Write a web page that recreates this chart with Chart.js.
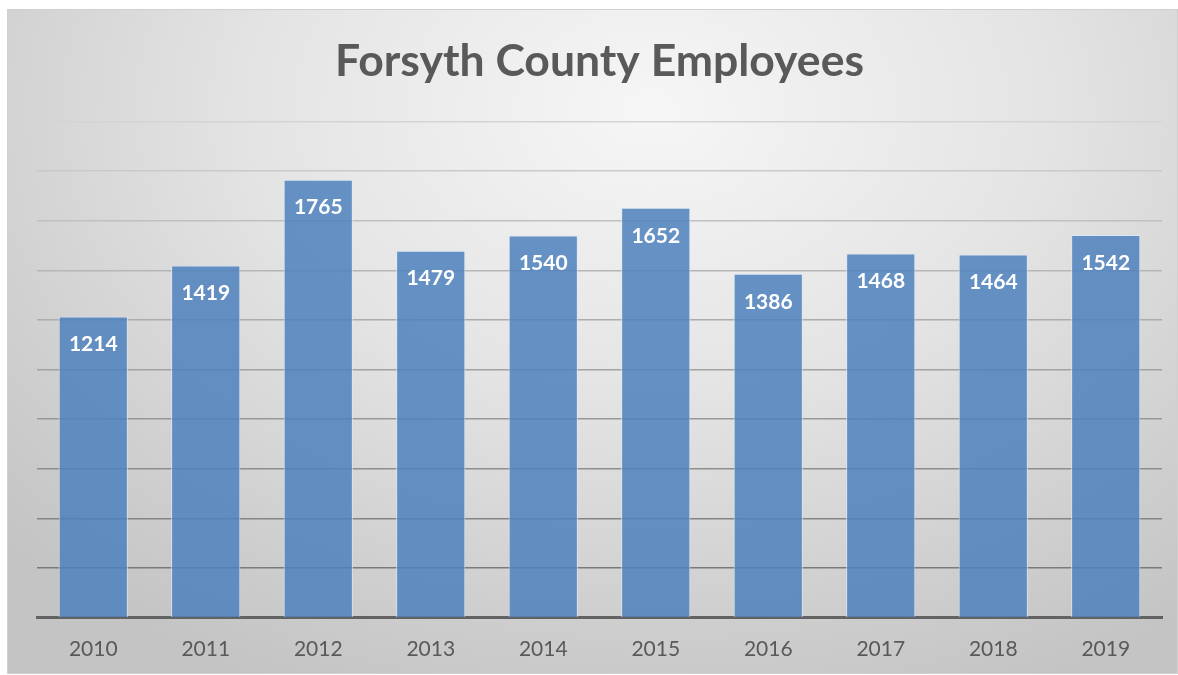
<!DOCTYPE html>
<html>
<head>
<meta charset="utf-8">
<script src="https://cdn.jsdelivr.net/npm/chart.js@4/dist/chart.umd.min.js"></script>
<style>
  html, body { margin: 0; padding: 0; background: #ffffff; }
  #panel {
    position: absolute; left: 7px; top: 9px; width: 1169px; height: 663px;
    border: 1px solid #d0d0d0;
    background: radial-gradient(ellipse 75% 95% at 55% 15%, #f6f6f6 0%, #e4e4e4 45%, #cfcfcf 80%, #c4c4c4 100%);
  }
  #wrap { position: absolute; left: 0; top: 0; width: 1169px; height: 663px; }
</style>
</head>
<body>
<div id="panel"><div id="wrap"><canvas id="c"></canvas></div></div>
<script>
const title = "Forsyth County Employees";
const years = ["2010","2011","2012","2013","2014","2015","2016","2017","2018","2019"];
const employees = [1214, 1419, 1765, 1479, 1540, 1652, 1386, 1468, 1464, 1542];
const yMax = 2000;
const yStep = 200;

const barLabels = {
  id: 'barLabels',
  afterDatasetsDraw(chart) {
    const ctx = chart.ctx;
    const meta = chart.getDatasetMeta(0);
    ctx.save();
    ctx.fillStyle = '#ffffff';
    ctx.font = 'bold 21px Lato';
    ctx.textAlign = 'center';
    ctx.textBaseline = 'middle';
    meta.data.forEach((bar, i) => {
      ctx.fillText(String(employees[i]), bar.x, bar.y + 28);
    });
    ctx.restore();
  }
};

function gridColor(v) {
  const t = v / yMax;
  const g = Math.round(0x70 + (0xd4 - 0x70) * t);
  return `rgb(${g},${g},${g})`;
}

new Chart(document.getElementById('c'), {
  type: 'bar',
  data: {
    labels: years,
    datasets: [{
      data: employees,
      backgroundColor: 'rgba(79,129,189,0.86)',
      borderColor: 'rgba(220,232,245,0.85)',
      borderWidth: 1,
      categoryPercentage: 1.0,
      barPercentage: 0.615
    }]
  },
  options: {
    responsive: true,
    maintainAspectRatio: false,
    animation: false,
    layout: { padding: { left: 29, right: 15, top: 0, bottom: -8 } },
    plugins: {
      legend: { display: false },
      tooltip: { enabled: false },
      title: {
        display: true,
        text: title,
        color: '#595959',
        font: { family: 'Lato', size: 44.5, weight: 'bold' },
        padding: { top: 25, bottom: 33 }
      }
    },
    scales: {
      x: {
        grid: { display: false, drawTicks: false },
        border: { display: true, color: '#626262', width: 3 },
        ticks: { color: '#595959', font: { family: 'Lato', size: 21 }, padding: 19 }
      },
      y: {
        min: 0, max: yMax,
        ticks: { display: false, stepSize: yStep },
        border: { display: false },
        grid: {
          drawTicks: false,
          lineWidth: 1.5,
          color: (c) => gridColor(c.tick ? c.tick.value : 0)
        }
      }
    }
  },
  plugins: [barLabels]
});
</script>
</body>
</html>
